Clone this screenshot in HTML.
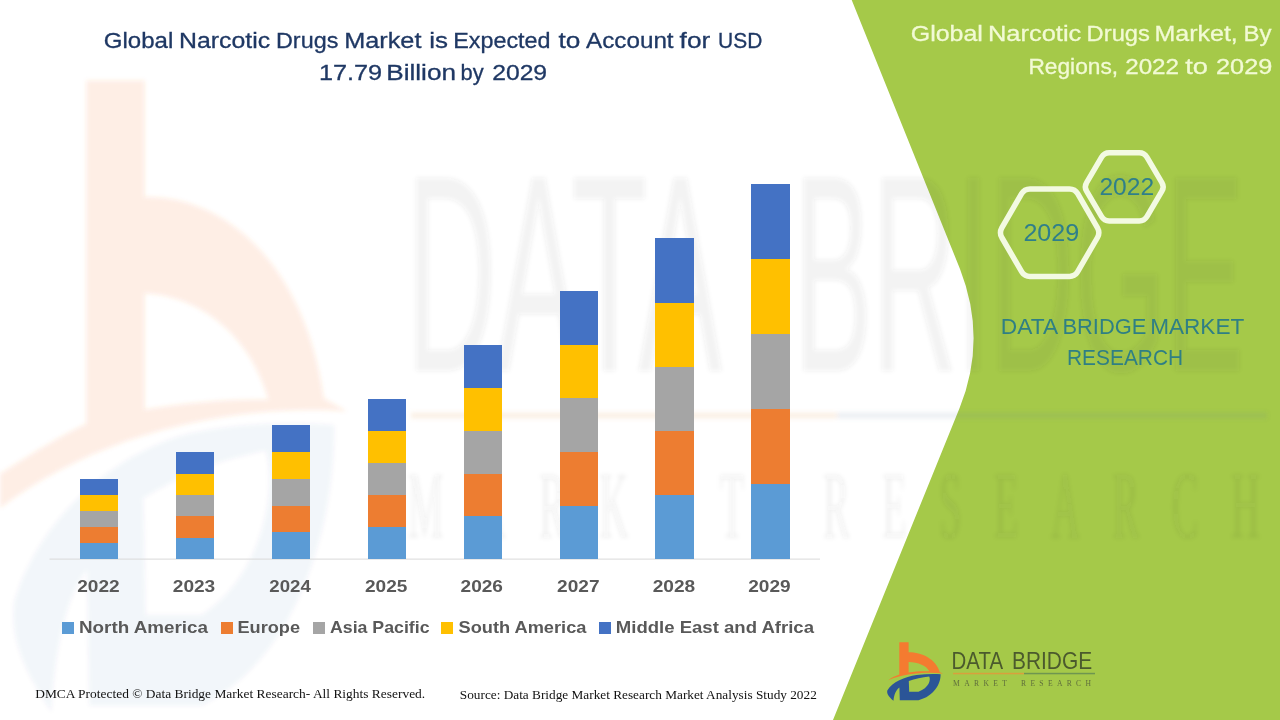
<!DOCTYPE html>
<html><head><meta charset="utf-8"><title>Global Narcotic Drugs Market</title>
<style>
html,body{margin:0;padding:0;background:#fff;}
body{width:1280px;height:720px;overflow:hidden;font-family:"Liberation Sans",sans-serif;}
svg{display:block;}
text{font-family:"Liberation Sans",sans-serif;}
.serif{font-family:"Liberation Serif",serif;}
</style></head><body>
<svg width="1280" height="720" viewBox="0 0 1280 720">
<defs>
<filter id="wmblur2" x="0" y="0" width="1280" height="720" filterUnits="userSpaceOnUse"><feGaussianBlur stdDeviation="2"/></filter>
</defs>
<rect width="1280" height="720" fill="#ffffff"/>

<!-- green panel -->
<path d="M851.7,0 L960,269 Q987.4,339 959.6,408 L833,720 L1280,720 L1280,0 Z" fill="#A5C949"/>

<!-- watermark -->
<g filter="url(#wmblur2)">
<path opacity="0.125" fill="#F47B30" fill-rule="evenodd" d="M86.3,80.4 L144.6,80.4 L144.6,197 C225,195 305,265 323.7,398.3 L347,411.5 C250,404 110,425 0,508 L0,474 C40,448 70,431 86.3,424 Z M144.6,293.3 C200,296 250,335 268.3,399.5 C225,399 185,403 144.6,409.5 Z"/>
<g opacity="0.052" transform="translate(86.3,80.4) scale(6.0,10.8) translate(-899.3,-642.3)">
<path fill="#2B5597" fill-rule="evenodd" d="M940.6,674.2 C940.8,684 934,696 918.5,700.2 L899.8,700.2 L899.4,687.6 C896,690 894,695 893.5,700.8 C889,697 886.5,694 887.3,690.5 C892,682.2 905,676.6 916.5,675 C925,674 933,673.9 940.6,674.2 Z M908.8,681 C915,678.8 922,677.3 929.2,676.6 C931,680 929,688 918.5,691.8 L909.2,691.8 Z"/>
</g>
<g opacity="0.065" fill="#444444">
<text x="406" y="371" font-size="281" textLength="316" lengthAdjust="spacingAndGlyphs">DATA</text>
<text x="794" y="371" font-size="281" textLength="450" lengthAdjust="spacingAndGlyphs">BRIDGE</text>
<g transform="translate(408,538) scale(0.42,1)"><text class="serif" x="0" y="0" font-size="95" textLength="800" lengthAdjust="spacing">MARKET</text></g>
<g transform="translate(823,538) scale(0.42,1)"><text class="serif" x="0" y="0" font-size="95" textLength="1040" lengthAdjust="spacing">RESEARCH</text></g>
</g>
<rect x="411" y="412.5" width="426" height="6" fill="#E8A060" opacity="0.16"/>
<rect x="837" y="412.5" width="430" height="6" fill="#5F7FA0" opacity="0.12"/>
</g>

<!-- chart title -->
<g fill="#1F3864" stroke="#1F3864" stroke-width="0.3" font-size="21.8">
<text x="103.8" y="48.2" textLength="69.5" lengthAdjust="spacingAndGlyphs">Global</text>
<text x="179.0" y="48.2" textLength="91.08" lengthAdjust="spacingAndGlyphs">Narcotic</text>
<text x="276.0" y="48.2" textLength="62.33" lengthAdjust="spacingAndGlyphs">Drugs</text>
<text x="344.2" y="48.2" textLength="77.28" lengthAdjust="spacingAndGlyphs">Market</text>
<text x="429.2" y="48.2" textLength="18.78" lengthAdjust="spacingAndGlyphs">is</text>
<text x="453.2" y="48.2" textLength="97.32" lengthAdjust="spacingAndGlyphs">Expected</text>
<text x="558.4" y="48.2" textLength="21.88" lengthAdjust="spacingAndGlyphs">to</text>
<text x="586.0" y="48.2" textLength="87.61" lengthAdjust="spacingAndGlyphs">Account</text>
<text x="679.6" y="48.2" textLength="30.64" lengthAdjust="spacingAndGlyphs">for</text>
<text x="718.0" y="48.2" textLength="44.32" lengthAdjust="spacingAndGlyphs">USD</text>
<text x="319.0" y="80.2" textLength="63.16" lengthAdjust="spacingAndGlyphs">17.79</text>
<text x="386.2" y="80.2" textLength="69.79" lengthAdjust="spacingAndGlyphs">Billion</text>
<text x="460.6" y="80.2" textLength="23.13" lengthAdjust="spacingAndGlyphs">by</text>
<text x="492.2" y="80.2" textLength="54.92" lengthAdjust="spacingAndGlyphs">2029</text>
</g>

<!-- axis -->
<rect x="49.5" y="558.6" width="770.5" height="1" fill="#D9D9D9"/>

<!-- bars -->
<g shape-rendering="crispEdges">
<rect x="80.0" y="542.90" width="38.2" height="16.30" fill="#5B9BD5"/>
<rect x="80.0" y="526.90" width="38.2" height="16.30" fill="#ED7D31"/>
<rect x="80.0" y="510.90" width="38.2" height="16.30" fill="#A5A5A5"/>
<rect x="80.0" y="494.90" width="38.2" height="16.30" fill="#FFC000"/>
<rect x="80.0" y="478.90" width="38.2" height="16.30" fill="#4472C4"/>
<rect x="175.9" y="537.50" width="38.2" height="21.70" fill="#5B9BD5"/>
<rect x="175.9" y="516.10" width="38.2" height="21.70" fill="#ED7D31"/>
<rect x="175.9" y="494.70" width="38.2" height="21.70" fill="#A5A5A5"/>
<rect x="175.9" y="473.30" width="38.2" height="21.70" fill="#FFC000"/>
<rect x="175.9" y="451.90" width="38.2" height="21.70" fill="#4472C4"/>
<rect x="271.8" y="532.12" width="38.2" height="27.08" fill="#5B9BD5"/>
<rect x="271.8" y="505.34" width="38.2" height="27.08" fill="#ED7D31"/>
<rect x="271.8" y="478.56" width="38.2" height="27.08" fill="#A5A5A5"/>
<rect x="271.8" y="451.78" width="38.2" height="27.08" fill="#FFC000"/>
<rect x="271.8" y="425.00" width="38.2" height="27.08" fill="#4472C4"/>
<rect x="367.7" y="526.85" width="38.2" height="32.35" fill="#5B9BD5"/>
<rect x="367.7" y="494.80" width="38.2" height="32.35" fill="#ED7D31"/>
<rect x="367.7" y="462.75" width="38.2" height="32.35" fill="#A5A5A5"/>
<rect x="367.7" y="430.70" width="38.2" height="32.35" fill="#FFC000"/>
<rect x="367.7" y="398.65" width="38.2" height="32.35" fill="#4472C4"/>
<rect x="463.6" y="516.10" width="38.2" height="43.10" fill="#5B9BD5"/>
<rect x="463.6" y="473.30" width="38.2" height="43.10" fill="#ED7D31"/>
<rect x="463.6" y="430.50" width="38.2" height="43.10" fill="#A5A5A5"/>
<rect x="463.6" y="387.70" width="38.2" height="43.10" fill="#FFC000"/>
<rect x="463.6" y="344.90" width="38.2" height="43.10" fill="#4472C4"/>
<rect x="559.5" y="505.25" width="38.2" height="53.95" fill="#5B9BD5"/>
<rect x="559.5" y="451.60" width="38.2" height="53.95" fill="#ED7D31"/>
<rect x="559.5" y="397.95" width="38.2" height="53.95" fill="#A5A5A5"/>
<rect x="559.5" y="344.30" width="38.2" height="53.95" fill="#FFC000"/>
<rect x="559.5" y="290.65" width="38.2" height="53.95" fill="#4472C4"/>
<rect x="655.4" y="494.75" width="38.2" height="64.45" fill="#5B9BD5"/>
<rect x="655.4" y="430.60" width="38.2" height="64.45" fill="#ED7D31"/>
<rect x="655.4" y="366.45" width="38.2" height="64.45" fill="#A5A5A5"/>
<rect x="655.4" y="302.30" width="38.2" height="64.45" fill="#FFC000"/>
<rect x="655.4" y="238.15" width="38.2" height="64.45" fill="#4472C4"/>
<rect x="751.3" y="483.90" width="38.2" height="75.30" fill="#5B9BD5"/>
<rect x="751.3" y="408.90" width="38.2" height="75.30" fill="#ED7D31"/>
<rect x="751.3" y="333.90" width="38.2" height="75.30" fill="#A5A5A5"/>
<rect x="751.3" y="258.90" width="38.2" height="75.30" fill="#FFC000"/>
<rect x="751.3" y="183.90" width="38.2" height="75.30" fill="#4472C4"/>
</g>

<!-- year labels -->
<g fill="#595959" font-weight="bold" font-size="17.3">
<text x="77.2" y="592.3" textLength="42.42" lengthAdjust="spacingAndGlyphs">2022</text>
<text x="172.78" y="592.3" textLength="42.47" lengthAdjust="spacingAndGlyphs">2023</text>
<text x="269.36" y="592.3" textLength="41.41" lengthAdjust="spacingAndGlyphs">2024</text>
<text x="364.94" y="592.3" textLength="42.45" lengthAdjust="spacingAndGlyphs">2025</text>
<text x="460.52" y="592.3" textLength="42.45" lengthAdjust="spacingAndGlyphs">2026</text>
<text x="557.1" y="592.3" textLength="42.45" lengthAdjust="spacingAndGlyphs">2027</text>
<text x="652.68" y="592.3" textLength="42.48" lengthAdjust="spacingAndGlyphs">2028</text>
<text x="748.26" y="592.3" textLength="42.45" lengthAdjust="spacingAndGlyphs">2029</text>
</g>

<!-- legend -->
<g shape-rendering="crispEdges">
<rect x="62" y="622" width="12" height="12" fill="#5B9BD5"/>
<rect x="221" y="622" width="12" height="12" fill="#ED7D31"/>
<rect x="313" y="622" width="12" height="12" fill="#A5A5A5"/>
<rect x="440.5" y="622" width="12" height="12" fill="#FFC000"/>
<rect x="599" y="622" width="12" height="12" fill="#4472C4"/>
</g>
<g fill="#595959" font-weight="bold" font-size="17.3">
<text x="79.0" y="633.1" textLength="129.01" lengthAdjust="spacingAndGlyphs">North America</text>
<text x="237.5" y="633.1" textLength="62.57" lengthAdjust="spacingAndGlyphs">Europe</text>
<text x="330.0" y="633.1" textLength="99.52" lengthAdjust="spacingAndGlyphs">Asia Pacific</text>
<text x="458.5" y="633.1" textLength="127.91" lengthAdjust="spacingAndGlyphs">South America</text>
<text x="615.8" y="633.1" textLength="198.21" lengthAdjust="spacingAndGlyphs">Middle East and Africa</text>
</g>

<!-- footer -->
<g fill="#111111" font-size="13.33">
<text x="35.2" y="698" textLength="390.01" lengthAdjust="spacingAndGlyphs" class="serif">DMCA Protected © Data Bridge Market Research- All Rights Reserved.</text>
<text x="459.8" y="699" textLength="357.01" lengthAdjust="spacingAndGlyphs" class="serif">Source: Data Bridge Market Research Market Analysis Study 2022</text>
</g>

<!-- right panel title -->
<g fill="#F2FAD4" stroke="#F2FAD4" stroke-width="0.3" font-size="21.8">
<text x="910.8" y="41.2" textLength="72.1" lengthAdjust="spacingAndGlyphs">Global</text>
<text x="988.0" y="41.2" textLength="93.28" lengthAdjust="spacingAndGlyphs">Narcotic</text>
<text x="1086.6" y="41.2" textLength="63.32" lengthAdjust="spacingAndGlyphs">Drugs</text>
<text x="1154.4" y="41.2" textLength="83.39" lengthAdjust="spacingAndGlyphs">Market,</text>
<text x="1243.4" y="41.2" textLength="27.98" lengthAdjust="spacingAndGlyphs">By</text>
<text x="1028.4" y="73.8" textLength="89.73" lengthAdjust="spacingAndGlyphs">Regions,</text>
<text x="1125.2" y="73.8" textLength="53.88" lengthAdjust="spacingAndGlyphs">2022</text>
<text x="1185.2" y="73.8" textLength="22.69" lengthAdjust="spacingAndGlyphs">to</text>
<text x="1216.0" y="73.8" textLength="56.29" lengthAdjust="spacingAndGlyphs">2029</text>
</g>

<!-- hexagons -->
<g fill="none" stroke="#F3FAE2" stroke-width="5.5" stroke-linejoin="round">
<path d="M1086.6,191.2 Q1084.0,186.9 1086.6,182.6 L1101.6,157.1 Q1104.2,152.8 1109.2,152.8 L1139.3,152.8 Q1144.3,152.8 1146.9,157.1 L1161.9,182.6 Q1164.5,186.9 1161.9,191.2 L1146.9,216.7 Q1144.3,221.0 1139.3,221.0 L1109.2,221.0 Q1104.2,221.0 1101.6,216.7 Z"/>
<path d="M1001.8,237.5 Q999.1,232.7 1001.8,227.9 L1021.6,193.7 Q1024.4,188.9 1029.9,188.9 L1069.5,188.9 Q1075.0,188.9 1077.7,193.7 L1097.5,227.9 Q1100.2,232.7 1097.5,237.5 L1077.7,271.7 Q1075.0,276.4 1069.5,276.4 L1029.9,276.4 Q1024.4,276.4 1021.6,271.7 Z"/>
</g>
<g fill="#2F7F8A" font-size="23.8">
<text x="1099.4" y="194.9" textLength="54.69" lengthAdjust="spacingAndGlyphs">2022</text>
<text x="1023.4" y="241" textLength="55.88" lengthAdjust="spacingAndGlyphs">2029</text>
</g>

<!-- DBMR text -->
<g fill="#2F7F84" font-size="22.4">
<text x="1000.8" y="333.6" textLength="57.27" lengthAdjust="spacingAndGlyphs">DATA</text>
<text x="1062.4" y="333.6" textLength="83.93" lengthAdjust="spacingAndGlyphs">BRIDGE</text>
<text x="1150.2" y="333.6" textLength="94.09" lengthAdjust="spacingAndGlyphs">MARKET</text>
<text x="1067.0" y="365.3" textLength="116.12" lengthAdjust="spacingAndGlyphs">RESEARCH</text>
</g>

<!-- logo -->
<path fill="#F47B30" fill-rule="evenodd" d="M899.3,642.3 L908.6,642.3 L908.6,652.2 C922,652.2 936,659 939.8,672.2 L943.2,673.4 C925,671.8 905,673.2 888.2,680.2 C892.5,677.2 896.5,675.6 899.3,674.6 Z M908.6,662 C918,662 927,666 929.3,671.3 C922,671 915,671.5 908.6,672.4 Z"/>
<path fill="#2B5597" fill-rule="evenodd" d="M940.6,674.2 C940.8,684 934,696 918.5,700.2 L899.8,700.2 L899.4,687.6 C896,690 894,695 893.5,700.8 C889,697 886.5,694 887.3,690.5 C892,682.2 905,676.6 916.5,675 C925,674 933,673.9 940.6,674.2 Z M908.8,681 C915,678.8 922,677.3 929.2,676.6 C931,680 929,688 918.5,691.8 L909.2,691.8 Z"/>
<text x="951.6" y="669.4" textLength="51.44" lengthAdjust="spacingAndGlyphs" font-size="24.8" fill="#4B5A2D">DATA</text>
<text x="1012.0" y="669.4" textLength="80.09" lengthAdjust="spacingAndGlyphs" font-size="24.8" fill="#4B5A2D">BRIDGE</text>
<rect x="953" y="672.8" width="71" height="1.5" fill="#D9A03C"/>
<rect x="1024" y="672.8" width="71" height="1.5" fill="#6E9650"/>
<text class="serif" x="953" y="685.7" font-size="7.6" fill="#5F6E3C" textLength="54" lengthAdjust="spacing">MARKET</text>
<text class="serif" x="1021" y="685.7" font-size="7.6" fill="#5F6E3C" textLength="70" lengthAdjust="spacing">RESEARCH</text>

</svg>
</body></html>
